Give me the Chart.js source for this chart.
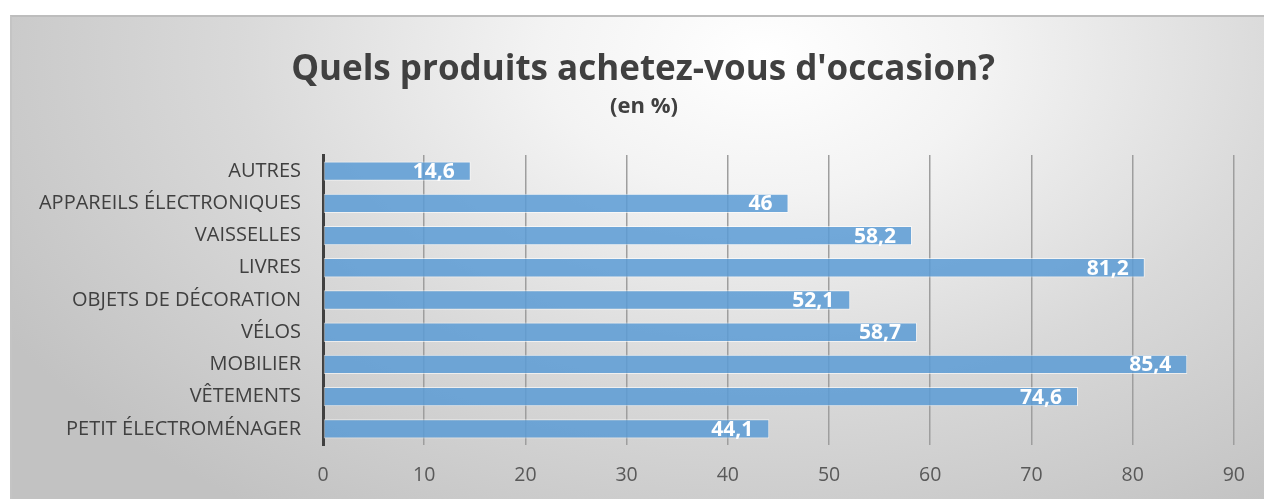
<!DOCTYPE html>
<html>
<head>
<meta charset="utf-8">
<script src="https://cdn.jsdelivr.net/npm/chart.js@4"></script>
<style>
  html, body { margin: 0; padding: 0; background: #fff; }
  #panel {
    position: absolute; left: 10px; top: 15px; width: 1254px; height: 484px;
    border-top: 2px solid #bdbdbd; border-left: 2px solid #c4c4c4; box-sizing: border-box;
    background: radial-gradient(ellipse 70% 115% at 60% 8%, #ffffff 0%, #f3f3f3 25%, #d9d9d9 60%, #c2c2c2 100%);
  }
  #wrap { position: absolute; left: 0; top: 0; width: 1264px; height: 499px; }
</style>
</head>
<body>
<div id="panel"></div>
<div id="wrap"><canvas id="chart"></canvas></div>
<script>
const categories = ['AUTRES', 'APPAREILS ÉLECTRONIQUES', 'VAISSELLES', 'LIVRES', 'OBJETS DE DÉCORATION', 'VÉLOS', 'MOBILIER', 'VÊTEMENTS', 'PETIT ÉLECTROMÉNAGER'];
const values = [14.6, 46, 58.2, 81.2, 52.1, 58.7, 85.4, 74.6, 44.1];
const xTicks = [0, 10, 20, 30, 40, 50, 60, 70, 80, 90];
const titleText = "Quels produits achetez-vous d'occasion?";
const subtitleText = '(en %)';

const FONT = "'Open Sans', 'Noto Sans', sans-serif";

// title, subtitle and white value labels at the bar ends
const extras = {
  id: 'extras',
  afterDraw(chart) {
    const ctx = chart.ctx;
    ctx.save();
    ctx.fillStyle = '#404040';
    ctx.textAlign = 'center';
    ctx.textBaseline = 'middle';
    ctx.font = 'bold 35px ' + FONT;
    ctx.fillText(titleText, 643, 70);
    ctx.font = 'bold 22px ' + FONT;
    ctx.fillText(subtitleText, 644, 107);

    const meta = chart.getDatasetMeta(0);
    ctx.font = 'bold 21px ' + FONT;
    ctx.fillStyle = '#ffffff';
    ctx.textAlign = 'right';
    meta.data.forEach((bar, i) => {
      const txt = String(values[i]).replace('.', ',');
      ctx.fillText(txt, bar.x - 16, bar.y + 1);
    });
    ctx.restore();
  }
};

new Chart(document.getElementById('chart'), {
  type: 'bar',
  data: {
    labels: categories,
    datasets: [{
      data: values,
      backgroundColor: 'rgba(91,155,213,0.85)',
      borderColor: 'rgba(255,255,255,0.6)',
      borderWidth: 1,
      borderSkipped: false,
      barPercentage: 0.6,
      categoryPercentage: 1
    }]
  },
  options: {
    indexAxis: 'y',
    responsive: true,
    maintainAspectRatio: false,
    animation: false,
    layout: { padding: { left: 0, right: 29, top: 155, bottom: 15 } },
    plugins: {
      legend: { display: false },
      tooltip: { enabled: false },
      title: { display: false }
    },
    scales: {
      x: {
        min: 0, max: 90,
        afterBuildTicks(scale) { scale.ticks = xTicks.map(v => ({ value: v })); },
        afterFit(scale) { scale.height = 39; },
        grid: { color: '#9e9e9e', lineWidth: 1.5, drawTicks: false },
        border: { display: false },
        ticks: { color: '#595959', font: { family: FONT, size: 19.5 }, padding: 19, maxRotation: 0 }
      },
      y: {
        afterFit(scale) { scale.width = 323; },
        grid: { display: false, drawTicks: false },
        border: { display: true, color: '#404040', width: 3 },
        ticks: { color: '#404040', font: { family: FONT, size: 20 }, padding: 22 }
      }
    }
  },
  plugins: [extras]
});
</script>
</body>
</html>
